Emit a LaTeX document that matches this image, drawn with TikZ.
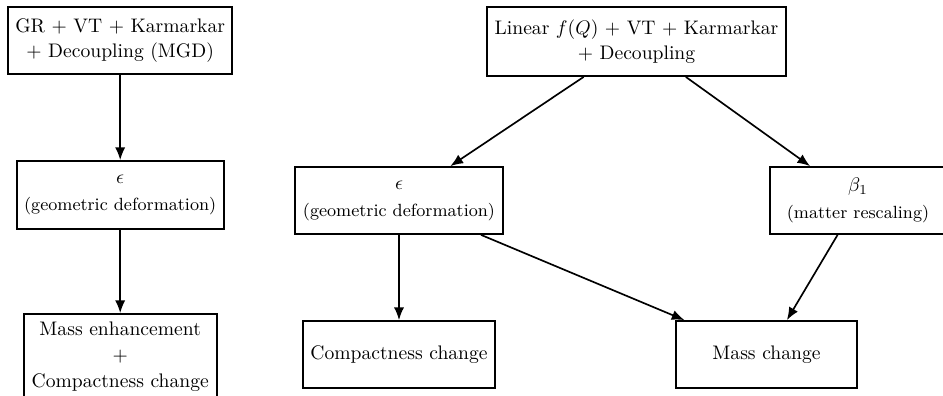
\documentclass[tikz,border=0pt]{standalone}
\usetikzlibrary{arrows.meta}
\begin{document}
\begin{tikzpicture}[x=0.51pt,y=-0.51pt,
  box/.style={draw, line width=0.9pt, align=center, inner sep=0pt},
  conn/.style={line width=0.85pt, -{Latex[length=6.5pt,width=5.2pt]}}]
\useasboundingbox (0,0) rectangle (943,395);
% left chain
\node[box, minimum width=224*0.51pt, minimum height=67*0.51pt] (A) at (120.2,40.5)
  {GR + VT + Karmarkar\\[1pt] + Decoupling (MGD)};
\node[box, minimum width=207*0.51pt, minimum height=68*0.51pt] (B) at (120.2,195)
  {$\epsilon$\\[1.8pt] {\small (geometric deformation)}};
\node[box, minimum width=193*0.51pt, minimum height=85*0.51pt] (C) at (120.2,356.5)
  {Mass enhancement\\[1.3pt] $+$\\[1.3pt] Compactness change};
% right tree
\node[box, minimum width=299*0.51pt, minimum height=69*0.51pt] (D) at (636.5,41.5)
  {Linear $f(Q)$ + VT + Karmarkar\\[1pt] + Decoupling};
\node[box, minimum width=208*0.51pt, minimum height=67*0.51pt] (E) at (399,200.5)
  {$\epsilon$\\[1.8pt] {\small (geometric deformation)}};
\node[box, minimum width=176*0.51pt, minimum height=67*0.51pt] (F) at (858,200.5)
  {$\beta_1$\\[1.8pt] {\small (matter rescaling)}};
\node[box, minimum width=192*0.51pt, minimum height=67*0.51pt] (G) at (399,354.5)
  {Compactness change};
\node[box, minimum width=181*0.51pt, minimum height=67*0.51pt] (H) at (766.5,354.5)
  {Mass change};
\draw[conn] (A) -- (B);
\draw[conn] (B) -- (C);
\draw[conn] (D) -- (E);
\draw[conn] (D) -- (F);
\draw[conn] (E) -- (G);
\draw[conn] (E) -- (H);
\draw[conn] (F) -- (H);
\end{tikzpicture}
\end{document}
